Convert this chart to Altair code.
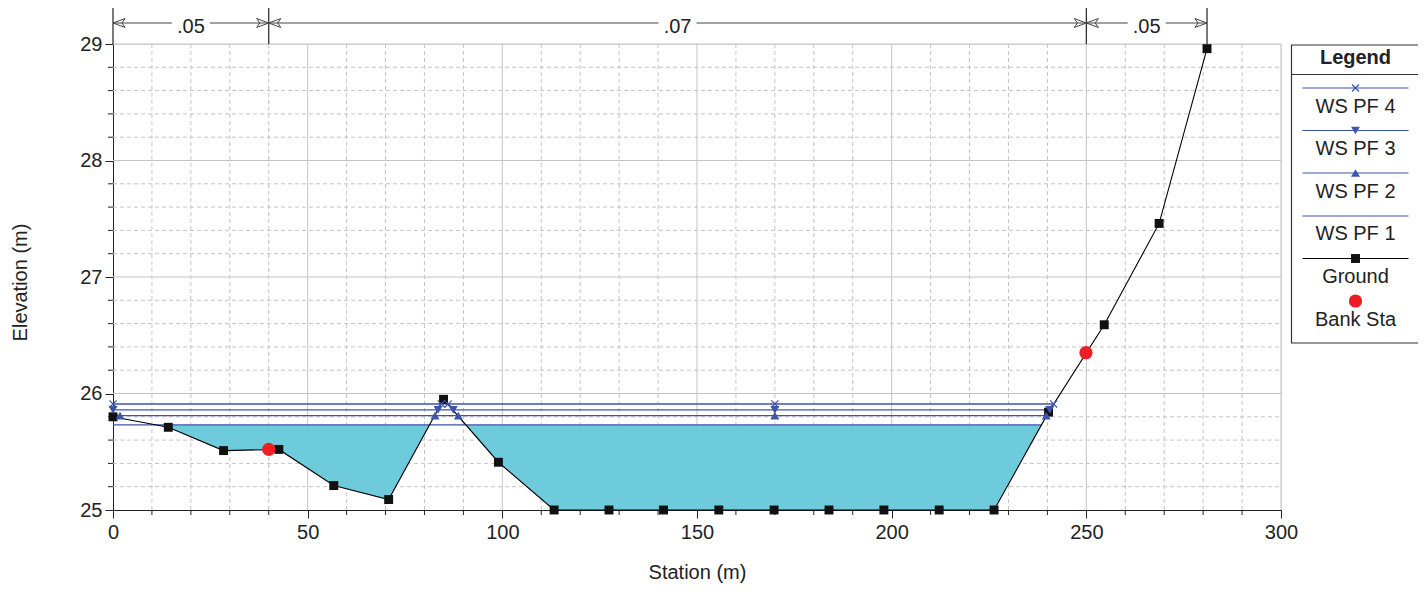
import altair as alt
import pandas as pd
import numpy as np

# ---------------- data ----------------
station = [0.0, 14.2, 28.4, 42.6, 56.7, 70.8, 84.9, 99.0, 113.3, 127.4, 141.4,
           155.6, 169.8, 183.9, 198.0, 212.2, 226.3, 240.3, 254.6, 268.7, 281.0]
elevation = [25.80, 25.71, 25.51, 25.52, 25.21, 25.09, 25.95, 25.41, 25.00, 25.00, 25.00,
             25.00, 25.00, 25.00, 25.00, 25.00, 25.00, 25.84, 26.59, 27.46, 28.96]

bank_station = [40.0, 249.9]
bank_elev = [25.52, 26.35]

ws_profiles = ["WS PF 4", "WS PF 3", "WS PF 2", "WS PF 1"]
ws_level = [25.91, 25.86, 25.81, 25.73]
ws_left = [0.0, 0.0, 0.0, 0.0]
ws_right = [241.6, 240.6, 239.7, 238.4]
pf4_marks = [0.0, 84.3, 86.1, 170.0, 241.6]
pf3_marks = [0.0, 83.5, 87.4, 170.0, 240.6]
pf2_marks = [1.8, 82.7, 88.7, 170.0, 239.7]

n_bounds = [0.0, 40.0, 250.0, 281.0]
n_values = [".05", ".07", ".05"]

x_major = [0, 50, 100, 150, 200, 250, 300]
x_minor = [10, 20, 30, 40, 60, 70, 80, 90, 110, 120, 130, 140, 160, 170, 180, 190,
           210, 220, 230, 240, 260, 270, 280, 290]
y_major = [25, 26, 27, 28, 29]
y_minor = [25.2, 25.4, 25.6, 25.8, 26.2, 26.4, 26.6, 26.8, 27.2, 27.4, 27.6, 27.8,
           28.2, 28.4, 28.6, 28.8]

legend_labels = ["WS PF 4", "WS PF 3", "WS PF 2", "WS PF 1", "Ground", "Bank Sta"]

# ---------------- styling ----------------
W, H = 1168, 466
TOP = 36
FONT = "Liberation Sans"
BLUE = "#3c55aa"
FILL = "#6ecbdb"
GRID = "#c4c4c4"
INK = "#222222"

xscale = alt.Scale(domain=[0, 300], nice=False, zero=False)
yscale = alt.Scale(domain=[25, 29], nice=False, zero=False)
xaxis = alt.Axis(values=x_major, grid=False, tickSize=8, labelFontSize=20, labelFont=FONT,
                 labelPadding=4, labelColor=INK, tickColor=INK, domainColor=INK,
                 title="Station (m)", titleFont=FONT, titleFontSize=20, titleFontWeight="normal",
                 titleColor=INK, titleBaseline="alphabetic", titleY=68, labelFlush=False)
yaxis = alt.Axis(values=y_major, grid=False, tickSize=8, labelFontSize=20, labelFont=FONT,
                 labelPadding=3, labelColor=INK, tickColor=INK, domainColor=INK,
                 title="Elevation (m)", titleFont=FONT, titleFontSize=20, titleFontWeight="normal",
                 titleColor=INK, titleBaseline="alphabetic", titleX=-86.5, titleY=238,
                 labelFlush=False, format="d")


def X(f="x"):
    return alt.X(f, type="quantitative", scale=xscale, axis=xaxis)


def Y(f="y"):
    return alt.Y(f, type="quantitative", scale=yscale, axis=yaxis)


one = pd.DataFrame({"k": [0]})
layers = []

# grid
layers.append(alt.Chart(pd.DataFrame({"x": x_minor})).mark_rule(
    color=GRID, strokeDash=[4, 3], strokeWidth=1).encode(x=X(), y=alt.value(0), y2=alt.value(H)))
layers.append(alt.Chart(pd.DataFrame({"x": x_major[1:]})).mark_rule(
    color=GRID, strokeWidth=1).encode(x=X(), y=alt.value(0), y2=alt.value(H)))
layers.append(alt.Chart(pd.DataFrame({"y": y_minor})).mark_rule(
    color=GRID, strokeDash=[4, 3], strokeWidth=1).encode(y=Y(), x=alt.value(0), x2=alt.value(W)))
layers.append(alt.Chart(pd.DataFrame({"y": y_major[1:]})).mark_rule(
    color=GRID, strokeWidth=1).encode(y=Y(), x=alt.value(0), x2=alt.value(W)))

# minor ticks
layers.append(alt.Chart(pd.DataFrame({"x": x_minor})).mark_rule(
    color=INK, strokeWidth=1).encode(x=X(), y=alt.value(H), y2=alt.value(H + 5)))
layers.append(alt.Chart(pd.DataFrame({"y": y_minor})).mark_rule(
    color=INK, strokeWidth=1).encode(y=Y(), x=alt.value(-5), x2=alt.value(0)))

# water fill below lowest profile
lvl1 = ws_level[3]
xs = np.union1d(np.linspace(ws_left[3], ws_right[3], 2400),
                [s for s in station if ws_left[3] <= s <= ws_right[3]])
g = np.interp(xs, station, elevation)
fill_df = pd.DataFrame({"x": xs, "y": np.minimum(g, lvl1), "y2": lvl1})
layers.append(alt.Chart(fill_df).mark_area(color=FILL, opacity=1).encode(
    x=X(), y=Y(), y2="y2:Q"))

# WS lines
ws_rows = []
for p, lv, a, b in zip(ws_profiles, ws_level, ws_left, ws_right):
    ws_rows += [{"p": p, "x": a, "y": lv}, {"p": p, "x": b, "y": lv}]
layers.append(alt.Chart(pd.DataFrame(ws_rows)).mark_line(color=BLUE, strokeWidth=1.3).encode(
    x=X(), y=Y(), detail="p:N"))

# ground
gdf = pd.DataFrame({"x": station, "y": elevation})
layers.append(alt.Chart(gdf).mark_line(color="black", strokeWidth=1.1).encode(x=X(), y=Y()))
layers.append(alt.Chart(gdf).mark_point(shape="square", filled=True, size=80, color="#111",
                                        opacity=1).encode(x=X(), y=Y()))

# WS markers
XPATH = "M -1 -1 L 1 1 M -1 1 L 1 -1"
layers.append(alt.Chart(pd.DataFrame({"x": pf2_marks, "y": ws_level[2]})).mark_point(
    shape="triangle-up", filled=True, size=80, color=BLUE, opacity=1).encode(x=X(), y=Y()))
layers.append(alt.Chart(pd.DataFrame({"x": pf3_marks, "y": ws_level[1]})).mark_point(
    shape="triangle-down", filled=True, size=80, color=BLUE, opacity=1).encode(x=X(), y=Y()))
layers.append(alt.Chart(pd.DataFrame({"x": pf4_marks, "y": ws_level[0]})).mark_point(
    shape=XPATH, filled=False, size=50, color=BLUE, strokeWidth=1.2, opacity=1).encode(x=X(), y=Y()))

# bank stations
layers.append(alt.Chart(pd.DataFrame({"x": bank_station, "y": bank_elev})).mark_point(
    shape="circle", filled=True, size=175, color="#ee1c24", opacity=1).encode(x=X(), y=Y()))

# Manning's n annotation above the plot (y offsets relative to the plot top at page y 45)
D = 45 - 8 - TOP
ann = pd.DataFrame({"a": n_bounds[:-1], "b": n_bounds[1:], "t": n_values})
ann["c"] = (ann["a"] + ann["b"]) / 2
layers.append(alt.Chart(pd.DataFrame({"x": n_bounds})).mark_rule(color=INK, strokeWidth=1.2).encode(
    x=X(), y=alt.value(-42 + D), y2=alt.value(0)))
layers.append(alt.Chart(ann).mark_rule(color="#444", strokeWidth=1, x2Offset=-19).encode(
    x=X("a"), x2="c:Q", y=alt.value(-22 + D)))
layers.append(alt.Chart(ann).mark_rule(color="#444", strokeWidth=1, xOffset=19).encode(
    x=X("c"), x2="b:Q", y=alt.value(-22 + D)))
layers.append(alt.Chart(ann).mark_text(font=FONT, fontSize=20, color=INK, baseline="alphabetic",
                                       align="center").encode(x=X("c"), y=alt.value(-12.5 + D), text="t:N"))
RARROW = "M 0 0 L -2.3 -0.85 L -1.7 0 L -2.3 0.85 Z"
LARROW = "M 0 0 L 2.3 -0.85 L 1.7 0 L 2.3 0.85 Z"
layers.append(alt.Chart(ann).mark_point(shape=RARROW, filled=False, size=110, color="#444",
                                        strokeWidth=1, opacity=1).encode(x=X("b"), y=alt.value(-22 + D)))
layers.append(alt.Chart(ann).mark_point(shape=LARROW, filled=False, size=110, color="#444",
                                        strokeWidth=1, opacity=1).encode(x=X("a"), y=alt.value(-22 + D)))

# ---------------- legend panel (drawn to the right of the plot) ----------------
LX0, LX1 = 1178.5, 1306.5
LCX = (LX0 + LX1) / 2
layers.append(alt.Chart(one).mark_rect(fill="white", stroke="#333", strokeWidth=1.2).encode(
    x=alt.value(LX0), x2=alt.value(LX1), y=alt.value(0 + D), y2=alt.value(298 + D)))
layers.append(alt.Chart(one).mark_rule(color="#333", strokeWidth=1.2).encode(
    x=alt.value(LX0), x2=alt.value(LX1), y=alt.value(29.5 + D)))
layers.append(alt.Chart(one).mark_text(font=FONT, fontSize=20, fontWeight="bold", color=INK,
                                       baseline="middle", align="center").encode(
    x=alt.value(LCX), y=alt.value(12.5 + D), text=alt.value("Legend")))

line_y = [43, 85.5, 128, 171, 213.5]
text_y = [62, 104, 147, 189, 232, 275]
sym = [("path", XPATH, 50, BLUE), ("triangle-down", None, 80, BLUE),
       ("triangle-up", None, 80, BLUE), (None, None, 0, BLUE), ("square", None, 80, "#111")]
for i, lab in enumerate(legend_labels):
    if i < 5:
        col = "black" if i == 4 else BLUE
        layers.append(alt.Chart(one).mark_rule(color=col, strokeWidth=1.2).encode(
            x=alt.value(LX0 + 11), x2=alt.value(LX1 - 11), y=alt.value(line_y[i] + D)))
        kind, path, sz, c = sym[i]
        if kind == "path":
            layers.append(alt.Chart(one).mark_point(shape=path, filled=False, size=sz, color=c,
                                                    strokeWidth=1.2, opacity=1).encode(
                x=alt.value(LCX), y=alt.value(line_y[i] + D)))
        elif kind is not None:
            layers.append(alt.Chart(one).mark_point(shape=kind, filled=True, size=sz, color=c,
                                                    opacity=1).encode(
                x=alt.value(LCX), y=alt.value(line_y[i] + D)))
    else:
        layers.append(alt.Chart(one).mark_point(shape="circle", filled=True, size=175,
                                                color="#ee1c24", opacity=1).encode(
            x=alt.value(LCX), y=alt.value(256 + D)))
    layers.append(alt.Chart(one).mark_text(font=FONT, fontSize=20, color=INK, baseline="middle",
                                           align="center").encode(
        x=alt.value(LCX), y=alt.value(text_y[i] + D), text=alt.value(lab)))

chart = alt.layer(*layers).properties(
    width=W, height=H,
    autosize=alt.AutoSizeParams(type="none"),
    padding={"left": 105, "top": TOP, "right": 137, "bottom": 73},
).configure_view(stroke=None).configure(background="white")

chart.save("out.html", embed_options={"renderer": "svg", "actions": False})
